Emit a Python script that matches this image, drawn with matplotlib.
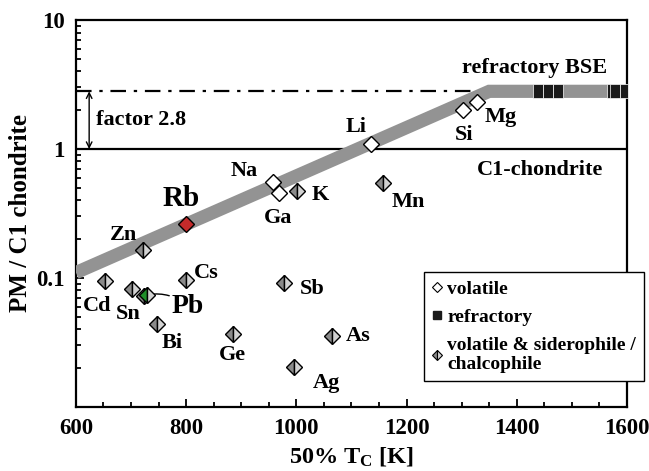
import numpy as np
import matplotlib
matplotlib.use("Agg")
import matplotlib.pyplot as plt
from matplotlib.ticker import FixedLocator, LogLocator, NullFormatter, FixedFormatter

plt.rcParams['font.family'] = ['Liberation Serif', 'DejaVu Serif']
plt.rcParams['font.weight'] = 'bold'
plt.rcParams['mathtext.fontset'] = 'custom'
plt.rcParams['mathtext.rm'] = 'Liberation Serif:bold'
plt.rcParams['mathtext.it'] = 'Liberation Serif:bold'
plt.rcParams['mathtext.bf'] = 'Liberation Serif:bold'

# 50% condensation temperature [K] and PM / C1 abundance
volatile_names = ['Na', 'Ga', 'Li', 'Si', 'Mg']
volatile_tc = [957, 968, 1135, 1302, 1328]
volatile_pm = [0.555, 0.456, 1.09, 2.0, 2.31]

sid_names = ['Zn', 'K', 'Mn', 'Cd', 'Sn', 'Bi', 'Cs', 'Ge', 'Sb', 'Ag', 'As']
sid_tc = [722, 1001, 1157, 653, 702, 747, 800, 885, 978, 996, 1065]
sid_pm = [0.165, 0.47, 0.545, 0.095, 0.082, 0.044, 0.096, 0.037, 0.091, 0.0204, 0.0355]

pb_gray_tc, pb_gray_pm = 723, 0.073
pb_tc, pb_pm = 729, 0.074
rb_tc, rb_pm = 800, 0.262

# refractory elements sitting on the BSE plateau
refr_tc = [1438, 1457, 1475, 1573, 1578, 1596]
refr_pm = 2.8

# BSE volatility trend (gray band)
trend_tc = [600, 1350, 1600]
trend_pm = [0.11, 2.8, 2.8]

bse_factor = 2.8

# label offsets in pixels
label_off = {
    'Na': (-28, 11), 'Ga': (-1, -25), 'Li': (-15, 17), 'Si': (1, -25), 'Mg': (24, -15),
    'Zn': (-20, 15), 'K': (23, -4), 'Mn': (25, -19), 'Cd': (-8, -25), 'Sn': (-4, -25),
    'Bi': (15, -19), 'Cs': (20, 7), 'Ge': (-1, -21), 'Sb': (28, -6), 'Ag': (32, -16),
    'As': (26, 0),
}

fig = plt.figure(figsize=(6.49, 4.71), dpi=100)
ax = fig.add_axes([0.117, 0.136, 0.849, 0.8215])
ax.set_xlim(600, 1600)
ax.set_ylim(0.01, 10)
ax.set_yscale('log')

ax.axhline(1, color='black', lw=1.6, zorder=2)
ax.plot([600, 1345], [bse_factor, bse_factor], color='black', lw=1.6,
        dashes=[7, 3.5, 1.5, 3.5], zorder=2)
ax.plot(trend_tc, trend_pm, color='#939393', lw=9.5, solid_capstyle='butt',
        solid_joinstyle='miter', zorder=3)

rect = [(-0.34, -0.5), (0.34, -0.5), (0.34, 0.5), (-0.34, 0.5), (-0.34, -0.5)]
ax.plot(refr_tc, [refr_pm] * len(refr_tc), ls='none', marker=rect, ms=10.5,
        mfc='#1a1a1a', mec='white', mew=0.5, zorder=4)

ms = 8.5
ax.plot(volatile_tc, volatile_pm, ls='none', marker='D', ms=ms, mfc='white',
        mec='black', mew=1.0, zorder=5)
ax.plot(sid_tc, sid_pm, ls='none', marker='D', ms=ms, fillstyle='left',
        mfc='#8a8a8a', markerfacecoloralt='#d2d2d2', mec='black', mew=1.0, zorder=5)
ax.plot([pb_gray_tc], [pb_gray_pm], ls='none', marker='D', ms=ms, fillstyle='left',
        mfc='#8a8a8a', markerfacecoloralt='#d2d2d2', mec='black', mew=1.0, zorder=5)
ax.plot([pb_tc], [pb_pm], ls='none', marker='D', ms=ms, fillstyle='left',
        mfc='#1f8f2a', markerfacecoloralt='#d2d2d2', mec='black', mew=1.0, zorder=6)
ax.plot([rb_tc], [rb_pm], ls='none', marker='D', ms=ms, mfc='#c42a2a',
        mec='black', mew=1.0, zorder=6)

for names, xs, ys in [(volatile_names, volatile_tc, volatile_pm), (sid_names, sid_tc, sid_pm)]:
    for n, x, y in zip(names, xs, ys):
        ax.annotate(n, (x, y), xytext=label_off[n], textcoords='offset pixels',
                    ha='center', va='center', fontsize=16, fontweight='bold')

ax.annotate('Rb', (rb_tc, rb_pm), xytext=(-5, 26), textcoords='offset pixels',
            ha='center', va='center', fontsize=21, fontweight='bold')
ax.annotate('Pb', (pb_tc, pb_pm), xytext=(25, -12), textcoords='offset pixels',
            ha='left', va='center', fontsize=20, fontweight='bold',
            arrowprops=dict(arrowstyle='-', lw=1.0, color='black', shrinkA=0, shrinkB=1,
                            connectionstyle='arc3,rad=0.25'))

ax.annotate('', xy=(624, 1), xytext=(624, bse_factor),
            arrowprops=dict(arrowstyle='<->', lw=1.0, color='black', shrinkA=0, shrinkB=0))
ax.text(636, 1.68, 'factor 2.8', ha='left', va='center', fontsize=16, fontweight='bold')
ax.text(1433, 4.25, 'refractory BSE', ha='center', va='center', fontsize=16, fontweight='bold')
ax.text(1442, 0.69, 'C1-chondrite', ha='center', va='center', fontsize=16, fontweight='bold')

# legend
h1, = ax.plot([], [], ls='none', marker='D', ms=5.5, mfc='white', mec='black', mew=0.8)
h2, = ax.plot([], [], ls='none', marker='s', ms=5.5, mfc='#1a1a1a', mec='#1a1a1a')
h3, = ax.plot([], [], ls='none', marker='D', ms=5.5, fillstyle='left', mfc='#8a8a8a',
              markerfacecoloralt='#d2d2d2', mec='black', mew=0.8)
leg = ax.legend([h1, h2, h3], ['volatile', 'refractory', 'volatile & siderophile /\nchalcophile'],
                loc='upper left', bbox_to_anchor=(0.631, 0.349), frameon=True, fancybox=False,
                edgecolor='black', framealpha=1, fontsize=14, handlelength=0.5,
                handletextpad=0.3, borderpad=0.42, labelspacing=0.55, borderaxespad=0)
leg.get_frame().set_linewidth(1.0)
leg.set_zorder(10)
for t in leg.get_texts():
    t.set_fontweight('bold')

ax.xaxis.set_major_locator(FixedLocator([600, 800, 1000, 1200, 1400, 1600]))
ax.xaxis.set_minor_locator(FixedLocator(np.arange(600, 1601, 50)))
ax.yaxis.set_major_locator(FixedLocator([0.1, 1, 10]))
ax.yaxis.set_major_formatter(FixedFormatter(['0.1', '1', '10']))
ax.yaxis.set_minor_locator(LogLocator(base=10, subs=np.arange(2, 10)))
ax.yaxis.set_minor_formatter(NullFormatter())
ax.tick_params(which='both', direction='in', top=False, right=False, width=1.3)
ax.tick_params(which='major', length=6, labelsize=16.5, pad=8)
ax.tick_params(which='minor', length=3.5)
for lab in ax.get_xticklabels() + ax.get_yticklabels():
    lab.set_fontweight('bold')
for s in ax.spines.values():
    s.set_linewidth(1.6)

ax.set_xlabel('50% T$_{\\rm C}$ [K]', fontsize=17.5, fontweight='bold', labelpad=4)
ax.set_ylabel('PM / C1 chondrite', fontsize=18, fontweight='bold', labelpad=3)

fig.savefig('out.png', dpi=100)
